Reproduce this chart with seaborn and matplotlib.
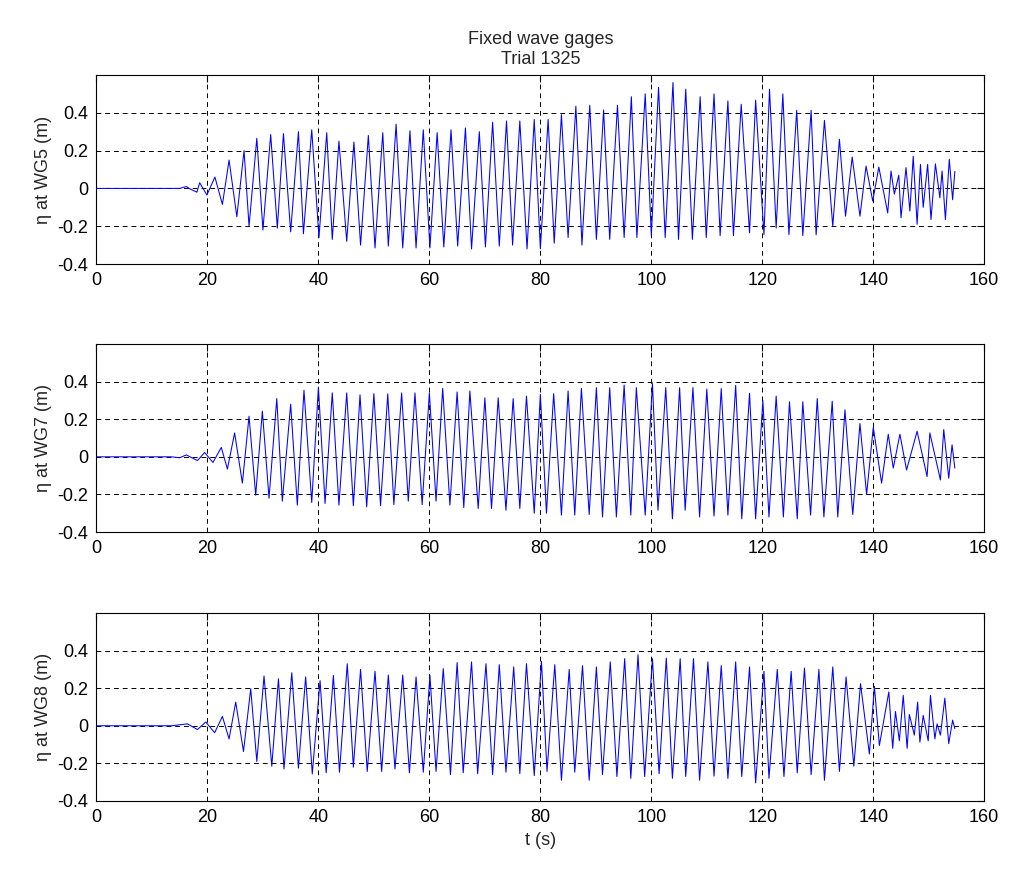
import numpy as np
import pandas as pd
import matplotlib
matplotlib.use("Agg")
import matplotlib.pyplot as plt
import seaborn as sns

# ---------------------------------------------------------------
# Datos: instantes (s) y elevacion (m) de crestas/senos
# ---------------------------------------------------------------
t_wg5 = [0, 15, 16.2, 17.0, 18.1, 18.6, 19.9, 21.35, 22.7, 23.9, 25.3, 26.6, 27.5, 28.9, 30.0,
         31.4, 32.6, 33.7, 35.0, 36.4, 37.3, 38.8, 40.1, 41.5, 42.5, 43.7, 45.1, 46.4, 47.6,
         49.0, 50.2, 51.6, 52.6, 54.0, 55.2, 56.5, 57.6, 58.9, 60.1, 61.4, 62.6, 63.9, 65.1,
         66.5, 67.6, 69.0, 70.1, 71.4, 72.6, 73.9, 75.0, 76.3, 77.6, 78.9, 80.0, 81.4, 82.5,
         83.8, 85.0, 86.4, 87.5, 88.9, 90.1, 91.4, 92.5, 93.9, 95.1, 96.4, 97.4, 98.9, 100.0,
         101.3, 102.5, 103.9, 104.9, 106.2, 107.4, 108.8, 109.9, 111.3, 112.4, 113.8, 114.8,
         116.2, 117.7, 118.8, 120.3, 121.3, 122.5, 123.7, 124.8, 126.2, 127.3, 128.8, 129.7,
         131.2, 132.7, 133.9, 135.0, 136.2, 137.6, 138.7, 139.9, 141.0, 142.6, 143.2, 143.8,
         144.6, 145.0, 145.9, 146.6, 147.2, 147.9, 148.5, 149.0, 149.8, 150.4, 151.2, 152.0,
         152.4, 153.0, 153.7, 154.3, 154.7]
eta_wg5 = [0, 0, 0.01, -0.005, -0.02, 0.03, -0.035, 0.06, -0.085, 0.15, -0.15, 0.20, -0.20, 0.265, -0.22,
           0.285, -0.21, 0.29, -0.23, 0.30, -0.24, 0.31, -0.26, 0.295, -0.27, 0.25, -0.28, 0.245, -0.30,
           0.28, -0.315, 0.295, -0.305, 0.34, -0.315, 0.305, -0.315, 0.31, -0.315, 0.295, -0.31, 0.31, -0.305,
           0.32, -0.32, 0.30, -0.31, 0.35, -0.305, 0.357, -0.30, 0.357, -0.32, 0.365, -0.32, 0.365, -0.29,
           0.39, -0.26, 0.435, -0.30, 0.44, -0.27, 0.415, -0.27, 0.44, -0.26, 0.485, -0.26, 0.50, -0.25,
           0.535, -0.26, 0.56, -0.27, 0.525, -0.27, 0.485, -0.26, 0.50, -0.25, 0.463, -0.25,
           0.445, -0.235, 0.467, -0.245, 0.525, -0.21, 0.50, -0.245, 0.413, -0.25, 0.413, -0.245,
           0.36, -0.20, 0.26, -0.147, 0.166, -0.147, 0.118, -0.067, 0.113, -0.13, 0.092, -0.03,
           0.07, -0.155, 0.11, -0.12, 0.17, -0.19, 0.127, -0.10, 0.127, -0.165, 0.13, -0.05,
           0.092, -0.165, 0.154, -0.06, 0.09]

t_wg7 = [0, 13.5, 15, 16.2, 18.2, 19.5, 21.0, 22.5, 23.6, 24.9, 26.3, 27.5, 28.7, 29.9, 31.1,
         32.5, 33.5, 35.0, 36.2, 37.4, 38.8, 40.0, 41.2, 42.5, 43.7, 45.1, 46.3, 47.5, 48.7,
         50.0, 51.2, 52.5, 53.6, 55.0, 56.2, 57.4, 58.7, 60.0, 61.2, 62.4, 63.7, 65.0, 66.2,
         67.3, 68.8, 70.0, 71.2, 72.4, 73.8, 75.1, 76.3, 77.5, 78.9, 80.0, 81.1, 82.4, 83.8,
         85.0, 86.2, 87.4, 88.8, 90.1, 91.2, 92.5, 93.7, 95.1, 96.3, 97.3, 98.9, 100.2, 101.2,
         102.6, 103.8, 105.1, 106.1, 107.5, 108.7, 110.0, 111.3, 112.6, 113.8, 115.2, 116.3,
         117.7, 118.8, 120.1, 121.2, 122.5, 123.8, 124.9, 126.3, 127.3, 128.7, 129.9, 131.1,
         132.6, 133.6, 134.9, 136.3, 137.6, 138.8, 140.0, 141.5, 142.7, 143.6, 144.8, 146.0,
         147.9, 149.7, 150.2, 152.1, 152.7, 153.6, 154.2, 154.7]
eta_wg7 = [0, 0, -0.005, 0.01, -0.02, 0.023, -0.03, 0.05, -0.065, 0.127, -0.14, 0.216, -0.204, 0.243, -0.22,
           0.31, -0.236, 0.28, -0.257, 0.354, -0.243, 0.371, -0.248, 0.34, -0.257, 0.34, -0.26, 0.33, -0.266,
           0.336, -0.26, 0.335, -0.254, 0.34, -0.236, 0.34, -0.254, 0.34, -0.236, 0.364, -0.257, 0.345, -0.27,
           0.35, -0.275, 0.314, -0.275, 0.314, -0.284, 0.31, -0.275, 0.323, -0.30, 0.332, -0.30, 0.336, -0.31,
           0.35, -0.31, 0.364, -0.307, 0.368, -0.32, 0.368, -0.32, 0.382, -0.31, 0.368, -0.31, 0.39, -0.284,
           0.368, -0.33, 0.368, -0.284, 0.368, -0.32, 0.36, -0.315, 0.363, -0.31, 0.38, -0.33,
           0.338, -0.33, 0.30, -0.32, 0.323, -0.32, 0.293, -0.33, 0.293, -0.31, 0.31, -0.32,
           0.296, -0.32, 0.25, -0.307, 0.177, -0.20, 0.157, -0.14, 0.12, -0.06, 0.12, -0.07,
           0.136, -0.105, 0.127, -0.123, 0.145, -0.114, 0.064, -0.06]

t_wg8 = [0, 13.5, 16.4, 18.2, 19.7, 21.3, 22.7, 23.9, 25.1, 26.5, 27.8, 28.9, 30.2, 31.6, 32.8,
         33.8, 35.2, 36.4, 37.7, 38.9, 40.3, 41.4, 42.7, 43.8, 45.2, 46.3, 47.6, 48.8, 50.2,
         51.4, 52.6, 53.8, 55.2, 56.4, 57.6, 58.9, 60.1, 61.2, 62.5, 63.8, 65.0, 66.1, 67.6,
         68.7, 70.2, 71.4, 72.6, 73.8, 75.2, 76.3, 77.5, 78.9, 80.2, 81.2, 82.6, 83.8, 85.2,
         86.2, 87.6, 88.8, 90.1, 91.2, 92.6, 93.8, 95.2, 96.3, 97.6, 98.8, 100.2, 101.4, 102.7,
         103.8, 105.2, 106.2, 107.6, 108.7, 110.2, 111.3, 112.6, 113.8, 115.2, 116.3, 117.7,
         118.8, 120.3, 121.2, 122.7, 123.9, 125.2, 126.3, 127.6, 128.8, 130.2, 131.2, 132.7,
         133.9, 135.1, 136.5, 137.7, 139.3, 140.2, 141.1, 142.8, 143.5, 144.0, 144.7, 145.4,
         146.1, 146.5, 147.4, 148.0, 148.4, 149.0, 149.9, 150.3, 151.1, 151.5, 152.1, 152.9,
         153.6, 154.3, 154.7]
eta_wg8 = [0, 0, 0.01, -0.02, 0.02, -0.037, 0.05, -0.07, 0.126, -0.137, 0.197, -0.19, 0.265, -0.215, 0.25,
           -0.23, 0.282, -0.225, 0.26, -0.256, 0.24, -0.25, 0.268, -0.247, 0.33, -0.22, 0.30, -0.243, 0.29,
           -0.243, 0.27, -0.23, 0.27, -0.25, 0.26, -0.247, 0.268, -0.243, 0.304, -0.26, 0.336, -0.25, 0.34,
           -0.255, 0.33, -0.26, 0.325, -0.247, 0.313, -0.255, 0.33, -0.265, 0.343, -0.243, 0.325, -0.29, 0.30,
           -0.247, 0.32, -0.29, 0.313, -0.26, 0.34, -0.27, 0.357, -0.28, 0.378, -0.27, 0.357, -0.255, 0.36,
           -0.28, 0.357, -0.27, 0.357, -0.29, 0.34, -0.268, 0.32, -0.28, 0.34, -0.27, 0.313,
           -0.304, 0.29, -0.28, 0.30, -0.27, 0.29, -0.25, 0.307, -0.26, 0.30, -0.29, 0.313,
           -0.243, 0.26, -0.215, 0.224, -0.15, 0.21, -0.105, 0.18, -0.12, 0.076, -0.08, 0.162,
           -0.12, 0.06, -0.05, 0.126, -0.087, 0.055, -0.08, 0.162, -0.07, 0.01, -0.05, 0.147,
           -0.095, 0.03, -0.015]

gauges = ["WG5", "WG7", "WG8"]
series = {"WG5": (t_wg5, eta_wg5), "WG7": (t_wg7, eta_wg7), "WG8": (t_wg8, eta_wg8)}

x_ticks = [0, 20, 40, 60, 80, 100, 120, 140, 160]
y_ticks = [-0.4, -0.2, 0, 0.2, 0.4]
y_tick_labels = ["-0.4", "-0.2", "0", "0.2", "0.4"]

# ---------------------------------------------------------------
# Estilo
# ---------------------------------------------------------------
sns.set_style("white")
plt.rcParams['font.family'] = ['Liberation Sans', 'DejaVu Sans']
plt.rcParams['font.size'] = 13

fig = plt.figure(figsize=(10.10, 8.69), dpi=100)
posiciones = [
    [0.0955, 0.6962, 0.879, 0.2175],
    [0.0955, 0.3878, 0.879, 0.2163],
    [0.0955, 0.0783, 0.879, 0.2163],
]

for i, g in enumerate(gauges):
    ax = fig.add_axes(posiciones[i])
    t, eta = series[g]
    df = pd.DataFrame({"t": t, "eta": eta})
    sns.lineplot(data=df, x="t", y="eta", ax=ax, color="#0000ff", linewidth=0.75,
                 estimator=None, sort=False)
    ax.set_xlim(0, 160)
    ax.set_ylim(-0.4, 0.6)
    ax.set_xticks(x_ticks)
    ax.set_yticks(y_ticks)
    ax.set_yticklabels(y_tick_labels)
    ax.grid(True, color="black", linestyle=(0, (5, 4)), linewidth=0.7)
    ax.tick_params(direction="in", top=True, right=True, length=5, width=0.8,
                   labelsize=13, colors="black", pad=6)
    for sp in ax.spines.values():
        sp.set_visible(True)
        sp.set_color("black")
        sp.set_linewidth(0.8)
    ax.set_ylabel(f"\u03b7 at {g} (m)", fontsize=13)
    ax.set_xlabel("t (s)" if i == 2 else "", fontsize=13)
    if i == 0:
        ax.set_title("Fixed wave gages\nTrial 1325", fontsize=13, pad=8)

fig.savefig("out.png", dpi=100)
